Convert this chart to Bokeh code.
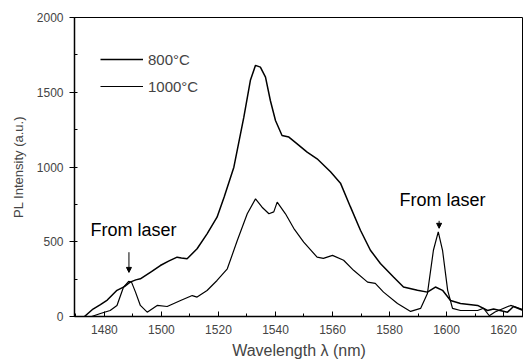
from bokeh.plotting import figure
from bokeh.models import Range1d, Legend, LegendItem, Arrow, NormalHead, Label, FixedTicker
from bokeh.embed import file_html
from bokeh.resources import INLINE

# --- data ---
wl_800 = [1473, 1476, 1478.6, 1481, 1484.4, 1487, 1489, 1491, 1492.6, 1496.5, 1499.6,
          1502.5, 1505.5, 1507, 1509, 1512.5, 1516, 1519.5, 1522, 1525.4, 1528.9,
          1531.2, 1533, 1534.7, 1536.5, 1538.2, 1540, 1542.3, 1544.7, 1547.6,
          1551.1, 1554.6, 1559.3, 1562.8, 1566.3, 1569.8, 1573.3, 1576.8,
          1581.4, 1584.9, 1589.8, 1593.3, 1596.1, 1598.6, 1601.4, 1604.9, 1610.9,
          1614.4, 1616.5, 1621.4, 1623.5, 1627]
pl_800 = [0, 50, 80, 110, 175, 200, 230, 245, 252, 300, 341,
          370, 397, 392, 386, 453, 553, 664, 800, 999, 1333,
          1580, 1680, 1668, 1601, 1445, 1311, 1211, 1200, 1155,
          1099, 1055, 968, 892, 733, 577, 443, 355,
          264, 197, 175, 163, 197, 175, 107, 87, 74,
          40, 50, 29, 67, 40]

wl_1000 = [1475.5, 1478.6, 1482, 1484.4, 1486.7, 1488.5, 1489.5, 1490.9, 1492.6, 1495,
           1498.5, 1502, 1506.7, 1510.8, 1512.5, 1516, 1519.5, 1523.1, 1526.6, 1530.1,
           1533, 1535.3, 1537.7, 1539.4, 1540.6, 1543.5, 1546.4, 1549.9, 1554.6,
           1556.8, 1560, 1563.9, 1567.4, 1572.3, 1575, 1577.9, 1582.8, 1587.4, 1590.9,
           1593.3, 1595.4, 1597.1, 1598.6, 1600.4, 1602.1, 1604.9, 1610.9, 1613, 1615,
           1617, 1622.5, 1627]
pl_1000 = [0, 20, 40, 74, 197, 235, 230, 163, 74, 29,
           74, 67, 107, 140, 130, 174, 241, 319, 508, 687,
           787, 731, 687, 700, 765, 687, 590, 497, 397,
           389, 409, 376, 309, 230, 221, 163, 87, 34, 54,
           154, 443, 566, 443, 175, 54, 40, 40, 55, 5,
           30, 74, 45]

x_ticks = [1480, 1500, 1520, 1540, 1560, 1580, 1600, 1620]
y_ticks = [0, 500, 1000, 1500, 2000]
series_labels = ["800°C", "1000°C"]
note_text = "From laser"
note_x = [1490.2, 1598.6]
note_y = [580, 776]
arrow_x = [1488.6, 1597.4]
arrow_y_start = [430, 640]
arrow_y_end = [295, 590]

FONT = "Liberation Sans"

p = figure(width=523, height=363, output_backend="svg", toolbar_location=None,
           x_range=Range1d(1469.5, 1627), y_range=Range1d(0, 2000),
           min_border_left=74, min_border_right=0, min_border_top=17, min_border_bottom=47)
p.background_fill_color = "white"
p.border_fill_color = "white"
p.outline_line_color = "black"
p.outline_line_width = 1
p.xgrid.visible = False
p.ygrid.visible = False

r1 = p.line(wl_800, pl_800, line_color="black", line_width=1.5)
r2 = p.line(wl_1000, pl_1000, line_color="black", line_width=1.2)

# axes
xa = p.xaxis[0]
xa.ticker = FixedTicker(ticks=x_ticks, minor_ticks=list(range(1470, 1630, 10)))
xa.major_tick_in = 5
xa.major_tick_out = 0
xa.minor_tick_in = 3
xa.minor_tick_out = 0
xa.axis_line_width = 1.5
xa.major_label_text_font = FONT
xa.major_label_text_font_size = "12px"
xa.major_label_standoff = 8
xa.axis_label = "Wavelength λ (nm)"
xa.axis_label_text_font = FONT
xa.axis_label_text_font_size = "16px"
xa.axis_label_text_font_style = "normal"
xa.axis_label_standoff = 5

ya = p.yaxis[0]
ya.ticker = FixedTicker(ticks=y_ticks, minor_ticks=list(range(0, 2001, 250)))
ya.major_tick_in = 0
ya.major_tick_out = 5
ya.minor_tick_in = 3
ya.minor_tick_out = 0
ya.axis_line_width = 1.5
ya.major_label_text_font = FONT
ya.major_label_text_font_size = "12px"
ya.major_label_standoff = 6
ya.axis_label = "PL Intensity (a.u.)"
ya.axis_label_text_font = FONT
ya.axis_label_text_font_size = "13px"
ya.axis_label_text_font_style = "normal"
ya.axis_label_standoff = 8

legend = Legend(items=[LegendItem(label=series_labels[0], renderers=[r1]),
                       LegendItem(label=series_labels[1], renderers=[r2])],
                location=(26, 220), padding=0, margin=0, spacing=7,
                glyph_width=43, glyph_height=20, label_height=20, label_standoff=5,
                label_text_font=FONT, label_text_font_size="15px",
                border_line_color=None, background_fill_alpha=0)
p.add_layout(legend)

for nx, ny in zip(note_x, note_y):
    p.add_layout(Label(x=nx, y=ny, text=note_text, text_font=FONT, text_font_size="18px",
                       text_align="center", text_baseline="middle", text_color="black"))

for ax, ys, ye in zip(arrow_x, arrow_y_start, arrow_y_end):
    p.add_layout(Arrow(x_start=ax, y_start=ys, x_end=ax, y_end=ye, line_width=1,
                       end=NormalHead(size=5, fill_color="black", line_color="black")))

open("out.html", "w").write(file_html(p, INLINE))
